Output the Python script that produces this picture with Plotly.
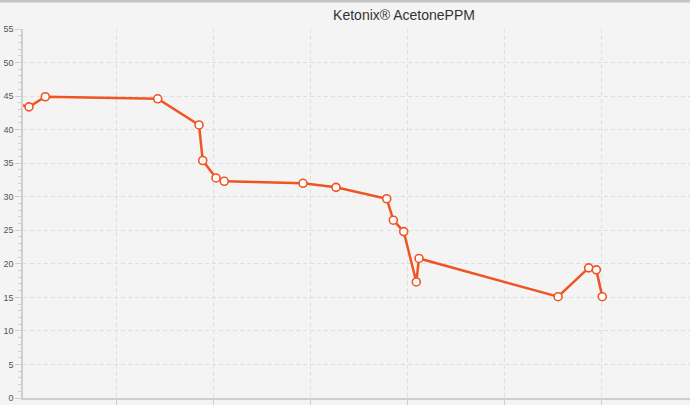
import plotly.graph_objects as go

# x: time in days relative to the first vertical gridline
days = [-1.05, -0.897, -0.729, 0.430, 0.856, 0.894, 1.031, 1.116, 1.928, 2.268,
        2.791, 2.859, 2.966, 3.096, 3.124, 4.557, 4.873, 4.952, 5.013]
acetone_ppm = [43.9, 43.4, 44.9, 44.6, 40.7, 35.4, 32.8, 32.3, 32.0, 31.4,
               29.7, 26.5, 24.8, 17.3, 20.8, 15.1, 19.4, 19.1, 15.1]
x_ticks = [0, 1, 2, 3, 4, 5]
y_ticks = [0, 5, 10, 15, 20, 25, 30, 35, 40, 45, 50, 55]

LINE = "#f05422"
BG = "#f4f4f4"
AX = "#cfcfcf"
GRID = "#dfdfdf"

fig = go.Figure(go.Scatter(
    x=days, y=acetone_ppm, mode="lines+markers",
    line=dict(color=LINE, width=2.5),
    marker=dict(size=8, color="white", line=dict(color=LINE, width=1.6)),
    cliponaxis=True, hoverinfo="x+y",
))

W, H = 690, 405
L, R, T, B = 23, 0, 29, 7
fig.update_layout(
    width=W, height=H,
    margin=dict(l=L, r=R, t=T, b=B, autoexpand=False),
    paper_bgcolor=BG, plot_bgcolor=BG,
    showlegend=False,
    title=dict(text="Ketonix® AcetonePPM", x=(404 - L) / (W - L - R), xanchor="center",
               y=1 - 15 / H, yanchor="middle", xref="paper",
               font=dict(family="Liberation Sans, Arial, sans-serif", size=14, color="#333333")),
    font=dict(family="Liberation Sans, Arial, sans-serif"),
    shapes=[dict(type="line", xref="paper", yref="paper",
                 x0=-L / (W - L - R), x1=1, y0=1 + 28 / (H - T - B), y1=1 + 28 / (H - T - B),
                 line=dict(color="#c4c4c4", width=3))],
)
fig.update_xaxes(
    range=[(23 - 116) / 97, (690 - 116) / 97], automargin=False,
    tickmode="array", tickvals=x_ticks, showticklabels=False,
    showgrid=True, gridcolor=GRID, griddash="4px,3px", gridwidth=1,
    showline=True, linecolor=AX, linewidth=2,
    ticks="outside", ticklen=7, tickcolor=AX, tickwidth=1,
    zeroline=False,
)
fig.update_yaxes(
    range=[0, 55], tickmode="array", tickvals=y_ticks, automargin=False,
    showgrid=True, gridcolor=GRID, griddash="4px,3px", gridwidth=1,
    showline=True, linecolor=AX, linewidth=1.5,
    ticks="outside", ticklen=6, tickcolor=AX, tickwidth=1,
    tickfont=dict(size=9, color="#555555"),
    minor=dict(dtick=1, ticks="outside", ticklen=3, tickcolor=AX, showgrid=False),
    zeroline=False,
)

fig.write_html("out.html", config={"displayModeBar": False},
               post_script="document.body.style.margin='0';document.body.style.overflow='hidden';")
